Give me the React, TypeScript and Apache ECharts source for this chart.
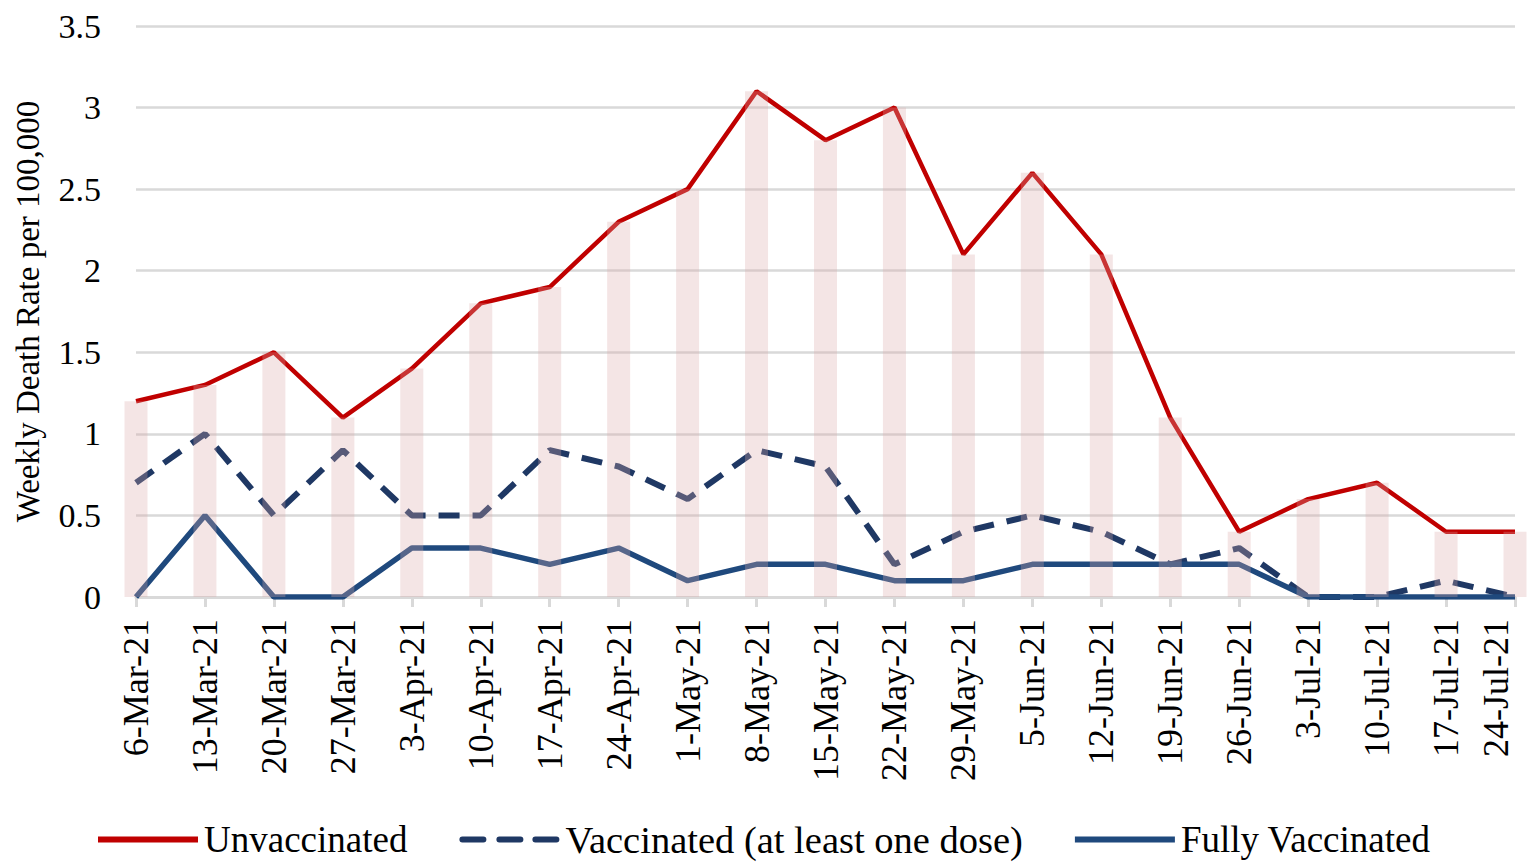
import React, { useEffect, useRef } from "react";
import * as echarts from "echarts";

const categories = [
  "6-Mar-21", "13-Mar-21", "20-Mar-21", "27-Mar-21", "3-Apr-21", "10-Apr-21", "17-Apr-21",
  "24-Apr-21", "1-May-21", "8-May-21", "15-May-21", "22-May-21", "29-May-21", "5-Jun-21",
  "12-Jun-21", "19-Jun-21", "26-Jun-21", "3-Jul-21", "10-Jul-21", "17-Jul-21", "24-Jul-21",
];
const unvaccinated = [1.2, 1.3, 1.5, 1.1, 1.4, 1.8, 1.9, 2.3, 2.5, 3.1, 2.8, 3.0, 2.1, 2.6, 2.1, 1.1, 0.4, 0.6, 0.7, 0.4, 0.4];
const atLeastOneDose = [0.7, 1.0, 0.5, 0.9, 0.5, 0.5, 0.9, 0.8, 0.6, 0.9, 0.8, 0.2, 0.4, 0.5, 0.4, 0.2, 0.3, 0.0, 0.0, 0.1, 0.0];
const fullyVaccinated = [0.0, 0.5, 0.0, 0.0, 0.3, 0.3, 0.2, 0.3, 0.1, 0.2, 0.2, 0.1, 0.1, 0.2, 0.2, 0.2, 0.2, 0.0, 0.0, 0.0, 0.0];
const seriesNames = ["Unvaccinated", "Vaccinated (at least one dose)", "Fully Vaccinated"];

const FONT = "'Liberation Serif', serif";
const SOLID_ICON = "path://M0,0H100V6H0Z";
const DASH_ICON = "path://M3,0H24A3,3 0 0 1 24,6H3A3,3 0 0 1 3,0Z M40,0H61A3,3 0 0 1 61,6H40A3,3 0 0 1 40,0Z M76,0H97A3,3 0 0 1 97,6H76A3,3 0 0 1 76,0Z";

export default function App() {
  const ref = useRef<HTMLDivElement>(null);
  useEffect(() => {
    if (!ref.current) return;
    const chart = echarts.init(ref.current, null, { renderer: "svg" });
    const xData = categories.map((c, i) =>
      i === categories.length - 1 ? { value: c, textStyle: { verticalAlign: "bottom", lineHeight: 38 } } : c
    );
    chart.setOption({
      animation: false,
      backgroundColor: "#ffffff",
      grid: { left: 136, right: 12, top: 26, bottom: 265, containLabel: false, outerBoundsMode: "none" },
      legend: {
        data: [
          { name: seriesNames[0], icon: SOLID_ICON },
          { name: seriesNames[1], icon: DASH_ICON, textStyle: { fontSize: 38.5 } },
          { name: seriesNames[2], icon: SOLID_ICON },
        ],
        left: 93,
        top: 815,
        itemWidth: 102,
        itemHeight: 6,
        itemGap: 52,
        textStyle: { fontFamily: FONT, fontSize: 37, lineHeight: 37, color: "#000" },
      },
      xAxis: {
        type: "category",
        data: xData,
        boundaryGap: false,
        axisLine: { lineStyle: { color: "#D9D9D9", width: 3 } },
        axisTick: { show: true, length: 10, lineStyle: { color: "#D9D9D9", width: 3 } },
        axisLabel: { rotate: 90, fontFamily: FONT, fontSize: 36, color: "#000", margin: 22, interval: 0 },
      },
      yAxis: {
        type: "value",
        min: 0,
        max: 3.5,
        interval: 0.5,
        name: "Weekly Death Rate per 100,000",
        nameLocation: "middle",
        nameGap: 92,
        nameTextStyle: { fontFamily: FONT, fontSize: 33, color: "#000" },
        axisLine: { show: false },
        axisTick: { show: false },
        splitLine: { lineStyle: { color: "#D9D9D9", width: 2.5 } },
        axisLabel: { fontFamily: FONT, fontSize: 34, color: "#000", margin: 35 },
      },
      series: [
        {
          name: seriesNames[0],
          type: "line",
          data: unvaccinated,
          symbol: "none",
          lineStyle: { color: "#C00000", width: 4.5 },
          itemStyle: { color: "#C00000" },
          z: 3,
        },
        {
          name: seriesNames[1],
          type: "line",
          data: atLeastOneDose,
          symbol: "none",
          lineStyle: { color: "#1F3864", width: 6, type: [21, 13] },
          itemStyle: { color: "#1F3864" },
          z: 3,
        },
        {
          name: seriesNames[2],
          type: "line",
          data: fullyVaccinated,
          symbol: "none",
          lineStyle: { color: "#1F497D", width: 5.5 },
          itemStyle: { color: "#1F497D" },
          z: 3,
        },
        {
          name: "bars",
          type: "bar",
          data: unvaccinated,
          barWidth: 23,
          itemStyle: { color: "rgba(220,170,170,0.3)" },
          z: 5,
          silent: true,
          clip: true,
        },
      ],
    });
    return () => chart.dispose();
  }, []);
  return <div ref={ref} style={{ width: 1527, height: 862, position: "absolute", left: 0, top: 0 }} />;
}
